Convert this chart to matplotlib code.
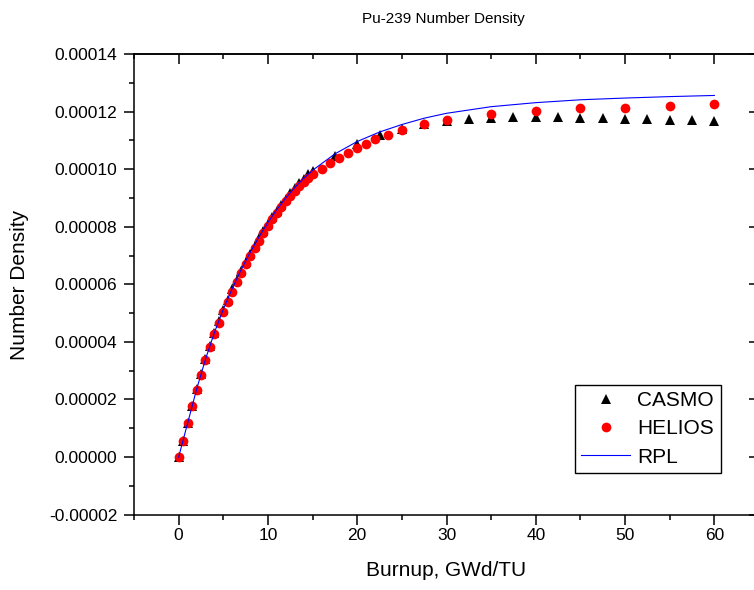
import matplotlib
matplotlib.use("Agg")
import matplotlib.pyplot as plt
from matplotlib.ticker import MultipleLocator, FuncFormatter

plt.rcParams['font.family'] = ['Liberation Sans', 'DejaVu Sans']

# Burnup (GWd/TU) and Pu-239 number density (x 1e-5)
casmo_burnup = [0, 0.5, 1, 1.5, 2, 2.5, 3, 3.5, 4, 4.5, 5, 5.5, 6, 6.5, 7, 7.5,
                8, 8.5, 9, 9.5, 10, 10.5, 11, 11.5, 12, 12.5, 13, 13.5, 14, 14.5,
                15, 17.5, 20, 22.5, 25, 27.5, 30, 32.5, 35, 37.5, 40, 42.5, 45,
                47.5, 50, 52.5, 55, 57.5, 60]
casmo_density = [0.00, 0.55, 1.18, 1.78, 2.35, 2.89, 3.40, 3.87, 4.31, 4.72, 5.10,
                 5.47, 5.82, 6.15, 6.47, 6.77, 7.06, 7.34, 7.61, 7.86, 8.10, 8.34,
                 8.56, 8.77, 8.97, 9.16, 9.34, 9.51, 9.67, 9.82, 9.95, 10.45,
                 10.88, 11.18, 11.40, 11.56, 11.66, 11.73, 11.78, 11.81, 11.82,
                 11.80, 11.79, 11.77, 11.75, 11.73, 11.71, 11.69, 11.67]

helios_burnup = [0, 0.5, 1, 1.5, 2, 2.5, 3, 3.5, 4, 4.5, 5, 5.5, 6, 6.5, 7, 7.5,
                 8, 8.5, 9, 9.5, 10, 10.5, 11, 11.5, 12, 12.5, 13, 13.5, 14, 14.5,
                 15, 16, 17, 18, 19, 20, 21, 22, 23.5, 25, 27.5, 30, 35, 40, 45,
                 50, 55, 60]
helios_density = [0.00, 0.55, 1.17, 1.76, 2.33, 2.86, 3.36, 3.83, 4.26, 4.66, 5.04,
                  5.40, 5.74, 6.07, 6.39, 6.69, 6.97, 7.25, 7.52, 7.78, 8.03, 8.27,
                  8.49, 8.70, 8.90, 9.08, 9.25, 9.41, 9.56, 9.70, 9.83, 10.02,
                  10.20, 10.38, 10.55, 10.73, 10.89, 11.04, 11.20, 11.35, 11.56,
                  11.70, 11.91, 12.02, 12.11, 12.14, 12.19, 12.25]

rpl_burnup = [0, 1, 2, 3, 4, 5, 6, 7, 8, 9, 10, 11, 12, 13, 14, 15, 17.5, 20,
              22.5, 25, 27.5, 30, 35, 40, 45, 50, 55, 60]
rpl_density = [0.00, 1.17, 2.34, 3.39, 4.32, 5.13, 5.85, 6.51, 7.10, 7.65, 8.15,
               8.60, 9.00, 9.36, 9.68, 9.96, 10.53, 10.96, 11.29, 11.55, 11.77,
               11.94, 12.17, 12.31, 12.41, 12.47, 12.52, 12.56]

x_ticks = [0, 10, 20, 30, 40, 50, 60]
y_ticks = [-0.00002, 0.0, 0.00002, 0.00004, 0.00006, 0.00008, 0.00010, 0.00012, 0.00014]

scale = 1e-5

W, H = 754, 590
fig = plt.figure(figsize=(W / 100, H / 100), dpi=100)
left, right, top, bottom = 134, 759, 54, 514.6
ax = fig.add_axes([left / W, 1 - bottom / H, (right - left) / W, (bottom - top) / H])

ax.plot(casmo_burnup, [v * scale for v in casmo_density], linestyle='none',
        marker='^', markersize=7.5, color='black', markeredgewidth=0,
        label='CASMO', zorder=3)
ax.plot(helios_burnup, [v * scale for v in helios_density], linestyle='none',
        marker='o', markersize=7.0, color='#ff0000', markeredgewidth=0,
        label='HELIOS', zorder=4)
ax.plot(rpl_burnup, [v * scale for v in rpl_density], color='#0000ff',
        linewidth=0.8, label='RPL', zorder=5)

ax.set_xlim(-5, 65)
ax.set_ylim(-0.00002, 0.00014)
ax.set_xticks(x_ticks)
ax.set_yticks(y_ticks)
ax.xaxis.set_minor_locator(MultipleLocator(5))
ax.yaxis.set_minor_locator(MultipleLocator(0.00001))
ax.yaxis.set_major_formatter(FuncFormatter(lambda v, p: f"{v:.5f}".replace("-0.00000", "0.00000")))

for s in ax.spines.values():
    s.set_linewidth(1.1)

ax.tick_params(which='major', direction='out', length=7, width=1.1, labelsize=12.5,
               top=False, right=False)
ax.tick_params(which='minor', direction='out', length=3.6, width=1.1,
               top=False, right=False)
ax.tick_params(axis='y', which='major', pad=5)
ax.tick_params(axis='x', which='major', pad=3)

# inward ticks on the top and right edges
sec_x = ax.secondary_xaxis('top')
sec_x.set_xticks(x_ticks)
sec_x.xaxis.set_minor_locator(MultipleLocator(5))
sec_x.tick_params(which='major', direction='in', length=7, width=1.1, labeltop=False)
sec_x.tick_params(which='minor', direction='in', length=3.6, width=1.1)
sec_x.spines['top'].set_linewidth(1.1)
sec_y = ax.secondary_yaxis('right')
sec_y.set_yticks(y_ticks)
sec_y.yaxis.set_minor_locator(MultipleLocator(0.00001))
sec_y.tick_params(which='major', direction='in', length=7, width=1.1, labelright=False)
sec_y.tick_params(which='minor', direction='in', length=3.6, width=1.1)
sec_y.spines['right'].set_linewidth(1.1)

ax.set_xlabel('Burnup, GWd/TU', fontsize=15)
ax.xaxis.set_label_coords((446 - left) / (right - left), -(571 - bottom) / (bottom - top))
ax.xaxis.label.set_va('center')
ax.set_ylabel('Number Density', fontsize=15)
ax.yaxis.set_label_coords(-(left - 20) / (right - left), 1 - (285 - top) / (bottom - top))
ax.yaxis.label.set_va('center')

fig.text(443 / W, 1 - 19 / H, 'Pu-239 Number Density', fontsize=11,
         ha='center', va='center')

leg = ax.legend(loc='upper left', bbox_to_anchor=(575 / W, 1 - 385 / H),
                bbox_transform=fig.transFigure, borderaxespad=0, fontsize=15,
                numpoints=1, handlelength=2.35, handletextpad=0.35, labelspacing=0.44,
                borderpad=0.3, fancybox=False, framealpha=1, edgecolor='black')
leg.get_frame().set_linewidth(1.0)

fig.savefig('out.png', dpi=100)
